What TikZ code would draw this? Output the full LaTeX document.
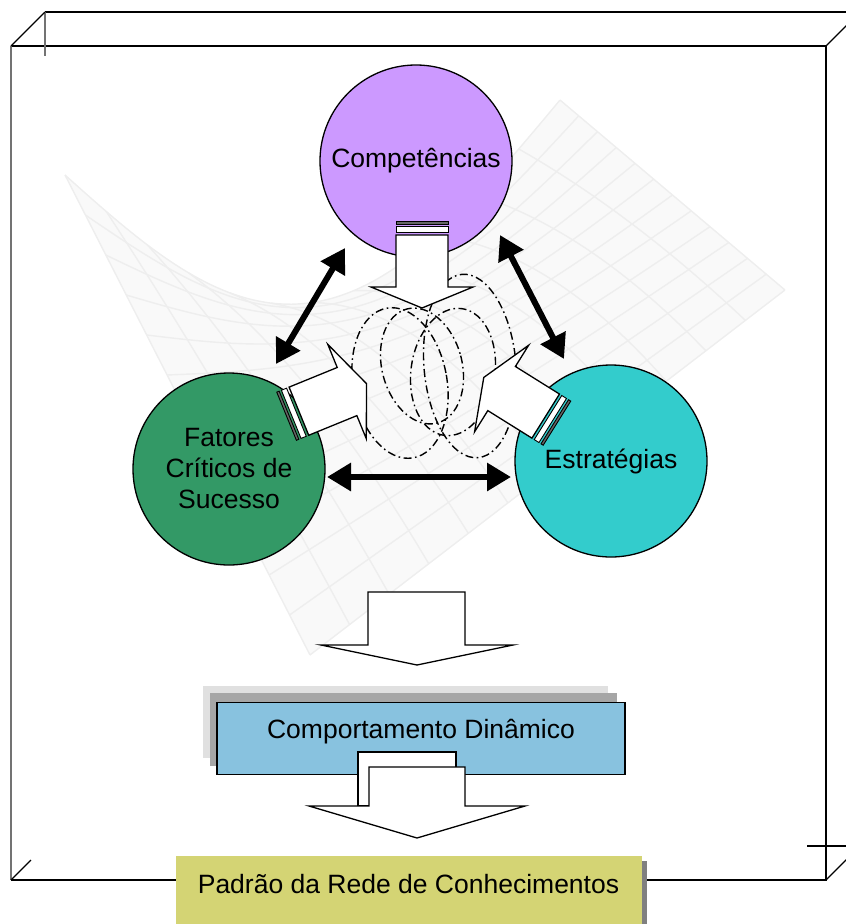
\documentclass[tikz,border=0pt]{standalone}
\usepackage{fontspec}
\setmainfont{Liberation Sans}
\usetikzlibrary{arrows.meta,calc}
\definecolor{compfill}{HTML}{CC99FF}
\definecolor{fcsfill}{HTML}{339966}
\definecolor{estfill}{HTML}{33CCCC}
\definecolor{cdfill}{HTML}{88C2DF}
\definecolor{prfill}{HTML}{D4D474}
\definecolor{meshline}{HTML}{EEEEEE}
\definecolor{meshfill}{HTML}{F9F9F9}

\tikzset{
  bubble/.style={circle, draw=black, line width=1.3pt, minimum size=192pt, inner sep=0pt,
                 align=center, font=\fontsize{26.5}{31}\selectfont},
  twoway/.style={line width=6pt, {Triangle[length=24pt,width=27pt]}-{Triangle[length=24pt,width=27pt]}},
  ring/.style={line width=1.4pt, dash pattern=on 8pt off 3.5pt on 1.6pt off 3.5pt},
  blk/.style={draw=black, line width=1.3pt, fill=white, line join=miter},
  stripe/.style={draw=black, line width=0.9pt},
  frameline/.style={line width=1.2pt, black},
  framegray/.style={line width=1.2pt, black!55},
  caption/.style={font=\fontsize{26.5}{31}\selectfont, anchor=base},
}

% fat hollow arrow with two bands at its tail; #1 = tail centre, #2 = direction
\newcommand\fatarrow[2]{%
  \begin{scope}[shift={#1}, rotate=#2]
    \draw[stripe, fill=white] (-8.3,-26) rectangle (-2.7,26);
    \draw[stripe, fill=black!60] (-13.3,-26) rectangle (-10.7,26);
    \draw[blk] (0,-26) -- (52,-26) -- (52,-51) -- (73,0) -- (52,51) -- (52,26) -- (0,26) -- cycle;
  \end{scope}}

% saddle surface sketched in the background
\newcommand\meshX[2]{(1-#1)*(1-#2)*65 + #1*(1-#2)*560 + #1*#2*785 + (1-#1)*#2*310}
\newcommand\meshY[2]{(1-#1)*(1-#2)*175 + #1*(1-#2)*100 + #1*#2*290 + (1-#1)*#2*655 + 165*sin(180*#1)*(1-#2)*(1-#2)}

\begin{document}
\begin{tikzpicture}[x=1pt,y=-1pt]
\useasboundingbox (0,0) rectangle (846,924);
\begin{scope}
\clip (0,0) rectangle (846,924);

% background surface
\fill[meshfill]
  plot[variable=\s, domain=0:1, samples=25, smooth] ({\meshX{\s}{0}},{\meshY{\s}{0}})
  -- plot[variable=\t, domain=0:1, samples=25, smooth] ({\meshX{1}{\t}},{\meshY{1}{\t}})
  -- plot[variable=\s, domain=1:0, samples=25, smooth] ({\meshX{\s}{1}},{\meshY{\s}{1}})
  -- plot[variable=\t, domain=1:0, samples=25, smooth] ({\meshX{0}{\t}},{\meshY{0}{\t}})
  -- cycle;
\foreach \k in {0,...,12}{
  \pgfmathsetmacro\u{\k/12}
  \draw[meshline, line width=1.4pt] plot[variable=\t, domain=0:1, samples=25, smooth] ({\meshX{\u}{\t}},{\meshY{\u}{\t}});
  \draw[meshline, line width=1.4pt] plot[variable=\s, domain=0:1, samples=25, smooth] ({\meshX{\s}{\u}},{\meshY{\s}{\u}});
}

% the open box around everything
\draw[frameline] (11,46) -- (826,46) -- (826,880) -- (11,880);
\draw[framegray] (11,46) -- (11,880);
\draw[frameline] (45,12) -- (846,12);
\draw[framegray] (45,12) -- (45,56);
\draw[frameline] (11,46) -- (45,12);
\draw[frameline] (826,46) -- (856,16);
\draw[frameline] (11,880) -- (31,860);
\draw[frameline] (826,880) -- (856,850);
\draw[frameline] (807,846) -- (846,846);

% the three themes
\node[bubble, fill=compfill] (comp) at (416,161) {Competências};
\node[bubble, fill=fcsfill] (fcs) at (229,469) {Fatores\\Críticos de\\Sucesso};
\node[bubble, fill=estfill] (est) at (611,461) {Estratégias};

% mutual relations
\coordinate (l1) at (345,248); \coordinate (l2) at (276,364);
\coordinate (r1) at (500,235); \coordinate (r2) at (564,359);
\coordinate (h1) at (327,477); \coordinate (h2) at (511,477);
\draw[twoway] (l1) -- (l2);
\draw[twoway] (r1) -- (r2);
\draw[twoway] (h1) -- (h2);

% overlapping rings in the middle
\draw[ring, rotate around={15:(422,366)}] (422,366) ellipse [x radius=40, y radius=59];
\draw[ring, rotate around={-8:(453,372)}] (453,372) ellipse [x radius=42, y radius=64];
\draw[ring, rotate around={10:(400,383)}] (400,383) ellipse [x radius=47, y radius=76];
\draw[ring, rotate around={5:(470,366)}] (470,366) ellipse [x radius=46, y radius=92];

% converging fat arrows
\fatarrow{(422,235)}{-90}
\fatarrow{(298.9,411.2)}{22.2}
\fatarrow{(545.7,416.1)}{148}

% first downward arrow
\draw[blk] (368,592) -- (465,592) -- (465,645) -- (513,645) -- (417,665) -- (321,645) -- (368,645) -- cycle;

% dynamic behaviour box with its stacked backing
\fill[black!12] (203,686) rectangle (608,758);
\fill[black!35] (210,693) rectangle (617,766);
\node[draw=black, line width=1.3pt, fill=cdfill, minimum width=408pt, minimum height=72pt,
      inner sep=0pt] (cd) at (421,738.5) {};
\node[caption] (cdtext) at (421,738) {Comportamento Dinâmico};

% second downward arrow
\draw[blk] (358,752) rectangle (456,806);
\draw[blk] (369,767) -- (465,767) -- (465,806) -- (525,806) -- (417,838) -- (309,806) -- (369,806) -- cycle;

% knowledge network pattern
\fill[black!50] (181.7,861) rectangle (646.7,940);
\node[fill=prfill, minimum width=465.7pt, minimum height=84pt, inner sep=0pt, anchor=north west]
      (pr) at (176,856) {};
\node[caption] (prtext) at (408.5,893) {Padrão da Rede de Conhecimentos};
\end{scope}
\end{tikzpicture}
\end{document}
